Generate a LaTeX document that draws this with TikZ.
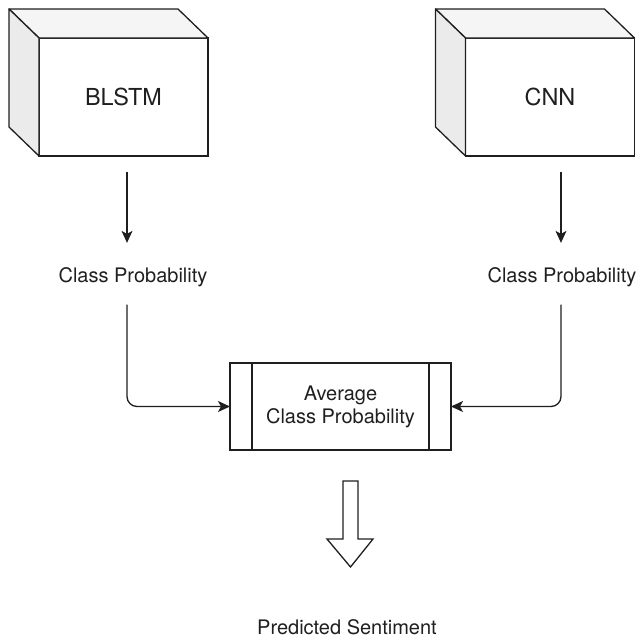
\documentclass[tikz,border=0pt]{standalone}
\usepackage{fontspec}
\setmainfont{TeX Gyre Heros}
\usetikzlibrary{arrows.meta}
\usetikzlibrary{positioning}

\definecolor{ink}{HTML}{1F1F1F}
\definecolor{topgray}{HTML}{F5F5F5}
\definecolor{sidegray}{HTML}{EBEBEB}

\tikzset{
  model/.style={draw=ink,fill=white,line width=1.3pt,minimum width=169pt,minimum height=118pt,
    inner sep=0pt,outer sep=0pt,text=ink,font=\fontsize{23.4}{28}\selectfont},
  prob/.style={inner sep=0pt,text=ink,font=\fontsize{20}{23}\selectfont},
  avgbox/.style={draw=ink,line width=1.3pt,minimum width=221pt,minimum height=87pt,
    inner sep=0pt,outer sep=0pt,align=center,text=ink,font=\fontsize{20}{23}\selectfont},
  conn/.style={draw=ink,line width=1.3pt,-{Stealth[length=12pt,width=11pt,inset=3pt]}}
}

\begin{document}
\begin{tikzpicture}[x=1pt,y=-1pt]
  \useasboundingbox (0,0) rectangle (640,638);

  \node[model] (blstm) at (123.5,97) {BLSTM};
  \node[model] (cnn) at (550,97) {CNN};
  \foreach \m in {blstm,cnn}{
    \filldraw[draw=ink,fill=topgray,line width=1.3pt,line join=round]
      (\m.north west) -- ++(-30,-29) -- ([shift={(-30,-29)}]\m.north east) -- (\m.north east) -- cycle;
    \filldraw[draw=ink,fill=sidegray,line width=1.3pt,line join=round]
      (\m.north west) -- ++(-30,-29) -- ([shift={(-30,-29)}]\m.south west) -- (\m.south west) -- cycle;
  }

  \node[prob,anchor=base] (lp1) at (133,282) {Class Probability};
  \node[prob,anchor=base] (lp2) at (562,282) {Class Probability};

  \node[avgbox] (avg) at (340.5,406.5) {Average\\Class Probability};
  \draw[draw=ink,line width=1.3pt] ([xshift=22pt]avg.north west) -- ([xshift=22pt]avg.south west);
  \draw[draw=ink,line width=1.3pt] ([xshift=-22pt]avg.north east) -- ([xshift=-22pt]avg.south east);

  \node[prob,anchor=base] (pred) at (347,634) {Predicted Sentiment};

  \draw[conn] ([xshift=3.5pt,yshift=-16pt]blstm.south) -- ([xshift=-6pt,yshift=24pt]lp1.north);
  \draw[conn] ([xshift=11pt,yshift=-16pt]cnn.south) -- ([xshift=-1pt,yshift=24pt]lp2.north);
  \draw[conn,rounded corners=10pt] ([xshift=-6pt,yshift=-18pt]lp1.south) |- (avg.west);
  \draw[conn,rounded corners=10pt] ([xshift=-1pt,yshift=-18pt]lp2.south) |- (avg.east);

  % hollow block arrow
  \draw[draw=ink,line width=1.3pt,line join=miter]
    (343,481) -- (358,481) -- (358,539) -- (373,539) -- (350.5,567) -- (327,539) -- (343,539) -- cycle;
\end{tikzpicture}
\end{document}
